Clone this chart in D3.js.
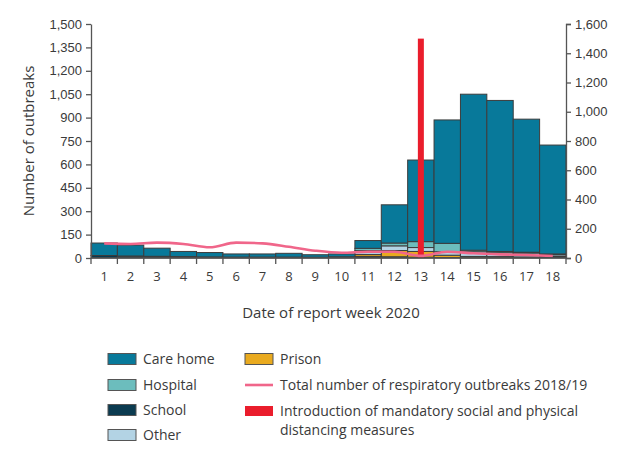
<!DOCTYPE html>
<html>
<head>
<meta charset="utf-8">
<script src="https://cdn.jsdelivr.net/npm/d3@7"></script>
<style>
  body { margin: 0; background: #fff; }
  svg { font-family: "Open Sans", "DejaVu Sans", sans-serif; }
</style>
</head>
<body>
<svg id="chart" width="632" height="456"></svg>
<script>
// ---- data ----
const weeks = ["1","2","3","4","5","6","7","8","9","10","11","12","13","14","15","16","17","18"];
const careHome = [80, 70, 52, 33, 28, 20, 20, 24, 16, 18, 50, 245, 523, 791, 1000, 968, 853, 698];
const hospital = [0, 1, 1, 1, 1, 1, 1, 1, 1, 2, 15, 18, 38, 54, 10, 8, 5, 3];
const school   = [16, 12, 9, 7, 5, 4, 4, 4, 3, 3, 10, 8, 5, 3, 2, 2, 2, 10];
const other    = [0, 0, 1, 1, 1, 1, 1, 1, 1, 2, 25, 30, 25, 22, 30, 25, 25, 10];
const prison   = [0, 0, 0, 0, 0, 0, 0, 0, 0, 1, 12, 40, 37, 15, 8, 7, 5, 3];
const total2018 = [100, 96, 105, 96, 73, 105, 100, 77, 50, 36, 43, 43, 15, 43, 32, 25, 20, 14];
const distancingWeek = "13";
const distancingValue = 1500;
const leftTicks = [0,150,300,450,600,750,900,1050,1200,1350,1500];
const rightTicks = [0,200,400,600,800,1000,1200,1400,1600];

const seriesKeys = ["school","prison","other","hospital","careHome"];
const seriesColors = {careHome:"#08799a", hospital:"#6cbdbd", school:"#0b3b50", other:"#b3d3e4", prison:"#e9aa1f"};

const rows = weeks.map((w,i)=>({week:w, careHome:careHome[i], hospital:hospital[i], school:school[i], other:other[i], prison:prison[i]}));

const svg = d3.select("#chart");
const mLeft = 91, mRight = 566, mTop = 24, mBottom = 258;
const textColor = "#3a3a3a", axisColor = "#555";

const x = d3.scaleBand().domain(weeks).range([mLeft, mRight]).padding(0);
const yL = d3.scaleLinear().domain([0,1500]).range([mBottom, mTop]);
const yR = d3.scaleLinear().domain([0,1600]).range([mBottom, mTop]);

const stack = d3.stack().keys(seriesKeys)(rows);

svg.append("g").selectAll("g").data(stack).join("g")
  .attr("fill", d => seriesColors[d.key])
  .selectAll("rect").data(d => d).join("rect")
  .attr("x", d => x(d.data.week))
  .attr("width", x.bandwidth())
  .attr("y", d => yL(d[1]))
  .attr("height", d => Math.max(0, yL(d[0]) - yL(d[1])))
  .attr("stroke", "#3c3c3c")
  .attr("stroke-width", 1);

// red distancing bar (right axis)
svg.append("rect")
  .attr("x", x(distancingWeek) + x.bandwidth()/2 - 3)
  .attr("width", 6)
  .attr("y", yR(distancingValue))
  .attr("height", yR(0) - yR(distancingValue))
  .attr("fill", "#ea1d2c");

// pink line (right axis)
const line = d3.line()
  .x((d,i) => x(weeks[i]) + x.bandwidth()/2)
  .y(d => yR(d))
  .curve(d3.curveMonotoneX);
svg.append("path").datum(total2018)
  .attr("d", line)
  .attr("fill","none")
  .attr("stroke","#f0668a")
  .attr("stroke-width",2.6);

// axes
function styleAxis(g){
  g.selectAll("path,line").attr("stroke", axisColor).attr("stroke-width",1.3);
  g.selectAll("text").attr("fill", textColor).style("font-size","13px");
}
const fmt = d3.format(",");
svg.append("g").attr("transform",`translate(${mLeft},0)`)
  .call(d3.axisLeft(yL).tickValues(leftTicks).tickFormat(fmt).tickSize(5).tickSizeOuter(0).tickPadding(4))
  .call(styleAxis);
svg.append("g").attr("transform",`translate(${mRight},0)`)
  .call(d3.axisRight(yR).tickValues(rightTicks).tickFormat(fmt).tickSize(5).tickSizeOuter(5).tickPadding(4))
  .call(styleAxis);

// x axis: ticks at band boundaries, labels centered
const xg = svg.append("g").attr("transform",`translate(0,${mBottom})`);
xg.append("line").attr("x1",mLeft).attr("x2",mRight).attr("stroke",axisColor).attr("stroke-width",1.3);
xg.selectAll("line.tk").data(weeks.concat(["end"])).join("line")
  .attr("class","tk")
  .attr("x1",(d,i)=> i<weeks.length ? x(d) : mRight)
  .attr("x2",(d,i)=> i<weeks.length ? x(d) : mRight)
  .attr("y1",0).attr("y2",6)
  .attr("stroke",axisColor).attr("stroke-width",1.3);
xg.selectAll("text").data(weeks).join("text")
  .attr("x", d => x(d) + x.bandwidth()/2)
  .attr("y", 23)
  .attr("text-anchor","middle")
  .attr("fill",textColor)
  .style("font-size","13px")
  .text(d=>d);

// titles
svg.append("text")
  .attr("transform","translate(34,141) rotate(-90)")
  .attr("text-anchor","middle")
  .attr("fill",textColor)
  .style("font-size","15px")
  .text("Number of outbreaks");
svg.append("text")
  .attr("x",331).attr("y",318)
  .attr("text-anchor","middle")
  .attr("fill",textColor)
  .style("font-size","15px")
  .text("Date of report week 2020");

// legend
const lg = svg.append("g").style("font-size","14px");
const legendBoxes = [
  {label:"Care home", key:"careHome", x:108, y:359},
  {label:"Hospital", key:"hospital", x:108, y:385},
  {label:"School", key:"school", x:108, y:410},
  {label:"Other", key:"other", x:108, y:435},
  {label:"Prison", key:"prison", x:245, y:359}
];
legendBoxes.forEach(b=>{
  lg.append("rect").attr("x",b.x).attr("y",b.y-5.5).attr("width",28).attr("height",11)
    .attr("fill",seriesColors[b.key]).attr("stroke","#555").attr("stroke-width",1);
  lg.append("text").attr("x",b.x+35).attr("y",b.y).attr("dy","0.35em").attr("fill",textColor).text(b.label);
});
lg.append("line").attr("x1",245).attr("x2",273).attr("y1",385).attr("y2",385)
  .attr("stroke","#f0668a").attr("stroke-width",2.6);
lg.append("text").attr("x",280).attr("y",385).attr("dy","0.35em").attr("fill",textColor)
  .text("Total number of respiratory outbreaks 2018/19");
lg.append("rect").attr("x",245).attr("y",406).attr("width",28).attr("height",10).attr("fill","#ea1d2c");
lg.append("text").attr("x",280).attr("y",411).attr("dy","0.35em").attr("fill",textColor)
  .text("Introduction of mandatory social and physical");
lg.append("text").attr("x",280).attr("y",430).attr("dy","0.35em").attr("fill",textColor)
  .text("distancing measures");
</script>
</body>
</html>
